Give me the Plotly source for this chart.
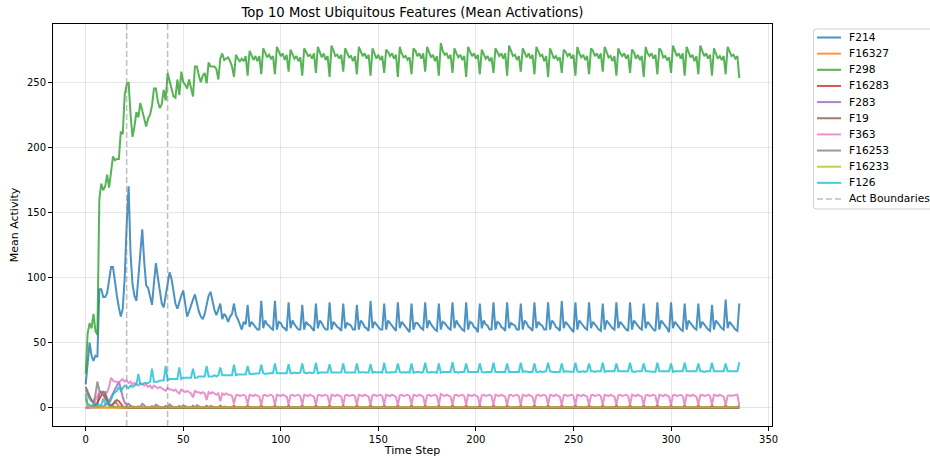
import plotly.graph_objects as go

# Mean activation per time step, one value per step (0..335), written 7 steps per line.
F214 = [
    18, 32, 50, 40, 36, 40, 39,
    91, 91, 85, 85, 88, 100, 108,
    108, 96, 86, 77, 70, 76, 100,
    140, 170, 118, 95, 86, 82, 100,
    122, 137, 112, 94, 92, 86, 79,
    96, 111, 100, 89, 80, 77, 86,
    96, 104, 99, 88, 80, 76, 82,
    86, 90, 80, 70, 74, 79, 83,
    87, 80, 74, 70, 68, 72, 80,
    86, 89, 82, 75, 71, 76, 80,
    68, 72, 70, 66, 70, 72, 80,
    71, 68, 64, 60, 66, 64, 79,
    62, 66, 64, 62, 60, 60, 82,
    61, 67, 64, 63, 61, 60, 82,
    60, 66, 65, 62, 61, 59, 81,
    61, 67, 64, 62, 60, 60, 79,
    60, 66, 64, 63, 61, 59, 80,
    61, 67, 65, 62, 60, 60, 81,
    60, 66, 64, 62, 61, 59, 80,
    61, 65, 64, 63, 60, 60, 79,
    60, 67, 65, 62, 61, 59, 82,
    61, 66, 64, 62, 60, 60, 80,
    60, 67, 65, 63, 61, 59, 81,
    61, 66, 64, 62, 60, 58, 80,
    60, 65, 65, 63, 61, 60, 81,
    61, 67, 64, 62, 60, 59, 80,
    60, 66, 65, 63, 61, 60, 81,
    61, 67, 64, 62, 60, 59, 81,
    60, 66, 65, 62, 61, 58, 80,
    61, 67, 64, 63, 60, 60, 81,
    60, 66, 65, 62, 61, 59, 81,
    61, 65, 64, 63, 60, 60, 80,
    60, 67, 65, 62, 61, 59, 81,
    61, 66, 64, 63, 60, 60, 81,
    60, 67, 65, 62, 61, 59, 82,
    61, 66, 64, 62, 60, 58, 81,
    60, 67, 65, 63, 61, 60, 81,
    61, 66, 64, 62, 60, 59, 80,
    60, 67, 65, 63, 61, 60, 81,
    61, 66, 64, 62, 60, 59, 81,
    60, 67, 65, 63, 61, 60, 80,
    61, 66, 64, 62, 60, 59, 81,
    60, 67, 65, 63, 61, 58, 81,
    61, 66, 64, 62, 60, 59, 80,
    60, 67, 65, 63, 61, 60, 80,
    61, 66, 64, 62, 60, 59, 79,
    60, 67, 65, 63, 61, 60, 83,
    61, 66, 64, 62, 60, 59, 80,
]

F16327 = [
    8, 1.5, 0.3, 0.1, 0.1, 0.1, 0.1,
    0.1, 0.1, 0.1, 0.1, 0.1, 0.1, 0.1,
    0.1, 0.1, 0.1, 0.1, 0.1, 0.1, 0.1,
    0.1, 0.1, 0.1, 0.1, 0.1, 0.1, 0.1,
    0.1, 0.1, 0.1, 0.1, 0.1, 0.1, 0.1,
    0.1, 0.1, 0.1, 0.1, 0.1, 0.1, 0.1,
    0.1, 0.1, 0.1, 0.1, 0.1, 0.1, 0.1,
    0.1, 0.1, 0.1, 0.1, 0.1, 0.1, 0.1,
    0.1, 0.1, 0.1, 0.1, 0.1, 0.1, 0.1,
    0.1, 0.1, 0.1, 0.1, 0.1, 0.1, 0.1,
    0.1, 0.1, 0.1, 0.1, 0.1, 0.1, 0.1,
    0.1, 0.1, 0.1, 0.1, 0.1, 0.1, 0.1,
    0.1, 0.1, 0.1, 0.1, 0.1, 0.1, 0.1,
    0.1, 0.1, 0.1, 0.1, 0.1, 0.1, 0.1,
    0.1, 0.1, 0.1, 0.1, 0.1, 0.1, 0.1,
    0.1, 0.1, 0.1, 0.1, 0.1, 0.1, 0.1,
    0.1, 0.1, 0.1, 0.1, 0.1, 0.1, 0.1,
    0.1, 0.1, 0.1, 0.1, 0.1, 0.1, 0.1,
    0.1, 0.1, 0.1, 0.1, 0.1, 0.1, 0.1,
    0.1, 0.1, 0.1, 0.1, 0.1, 0.1, 0.1,
    0.1, 0.1, 0.1, 0.1, 0.1, 0.1, 0.1,
    0.1, 0.1, 0.1, 0.1, 0.1, 0.1, 0.1,
    0.1, 0.1, 0.1, 0.1, 0.1, 0.1, 0.1,
    0.1, 0.1, 0.1, 0.1, 0.1, 0.1, 0.1,
    0.1, 0.1, 0.1, 0.1, 0.1, 0.1, 0.1,
    0.1, 0.1, 0.1, 0.1, 0.1, 0.1, 0.1,
    0.1, 0.1, 0.1, 0.1, 0.1, 0.1, 0.1,
    0.1, 0.1, 0.1, 0.1, 0.1, 0.1, 0.1,
    0.1, 0.1, 0.1, 0.1, 0.1, 0.1, 0.1,
    0.1, 0.1, 0.1, 0.1, 0.1, 0.1, 0.1,
    0.1, 0.1, 0.1, 0.1, 0.1, 0.1, 0.1,
    0.1, 0.1, 0.1, 0.1, 0.1, 0.1, 0.1,
    0.1, 0.1, 0.1, 0.1, 0.1, 0.1, 0.1,
    0.1, 0.1, 0.1, 0.1, 0.1, 0.1, 0.1,
    0.1, 0.1, 0.1, 0.1, 0.1, 0.1, 0.1,
    0.1, 0.1, 0.1, 0.1, 0.1, 0.1, 0.1,
    0.1, 0.1, 0.1, 0.1, 0.1, 0.1, 0.1,
    0.1, 0.1, 0.1, 0.1, 0.1, 0.1, 0.1,
    0.1, 0.1, 0.1, 0.1, 0.1, 0.1, 0.1,
    0.1, 0.1, 0.1, 0.1, 0.1, 0.1, 0.1,
    0.1, 0.1, 0.1, 0.1, 0.1, 0.1, 0.1,
    0.1, 0.1, 0.1, 0.1, 0.1, 0.1, 0.1,
    0.1, 0.1, 0.1, 0.1, 0.1, 0.1, 0.1,
    0.1, 0.1, 0.1, 0.1, 0.1, 0.1, 0.1,
    0.1, 0.1, 0.1, 0.1, 0.1, 0.1, 0.1,
    0.1, 0.1, 0.1, 0.1, 0.1, 0.1, 0.1,
    0.1, 0.1, 0.1, 0.1, 0.1, 0.1, 0.1,
    0.1, 0.1, 0.1, 0.1, 0.1, 0.1, 0.1,
]

F298 = [
    26, 57, 65, 61, 72, 59, 56,
    160, 172, 167, 170, 179, 169, 182,
    193, 190, 191, 191, 212, 210, 240,
    248, 250, 225, 208, 216, 227, 223,
    234, 228, 222, 216, 222, 225, 232,
    245, 245, 235, 230, 233, 244, 236,
    257, 250, 245, 239, 238, 252, 240,
    258, 250, 248, 245, 252, 246, 239,
    262, 262, 255, 250, 255, 257, 249,
    265, 262, 262, 262, 260, 252, 268,
    272, 267, 268, 269, 266, 262, 254,
    271, 268, 266, 268, 266, 270, 255,
    274, 270, 267, 270, 266, 270, 256,
    276, 272, 269, 271, 268, 270, 256,
    277, 273, 270, 272, 267, 271, 258,
    275, 272, 268, 270, 266, 269, 255,
    276, 273, 270, 271, 268, 272, 257,
    277, 272, 269, 272, 267, 270, 254,
    278, 274, 270, 271, 268, 271, 258,
    276, 272, 269, 270, 266, 270, 256,
    277, 273, 270, 272, 268, 271, 255,
    276, 272, 268, 271, 267, 270, 257,
    275, 273, 270, 272, 268, 271, 254,
    277, 272, 269, 270, 267, 269, 256,
    276, 274, 270, 272, 268, 272, 258,
    277, 273, 269, 271, 266, 270, 255,
    280, 274, 271, 272, 268, 271, 257,
    276, 272, 269, 271, 267, 270, 254,
    277, 273, 270, 272, 268, 271, 256,
    275, 272, 268, 270, 266, 269, 257,
    276, 273, 270, 272, 268, 272, 255,
    278, 274, 270, 271, 267, 270, 258,
    276, 272, 269, 272, 268, 271, 256,
    277, 273, 270, 271, 266, 270, 254,
    276, 272, 268, 270, 267, 269, 257,
    275, 273, 270, 272, 268, 271, 255,
    277, 272, 269, 271, 267, 270, 256,
    276, 274, 270, 272, 268, 272, 258,
    277, 273, 269, 270, 266, 270, 255,
    276, 272, 270, 272, 268, 271, 257,
    275, 273, 268, 271, 267, 270, 254,
    277, 272, 270, 272, 268, 271, 256,
    276, 274, 269, 270, 267, 269, 257,
    278, 273, 270, 272, 268, 272, 255,
    277, 272, 269, 271, 266, 270, 256,
    278, 274, 270, 272, 268, 271, 255,
    276, 272, 268, 270, 267, 270, 256,
    277, 273, 270, 271, 268, 270, 253,
]

F16283 = [
    0, 0, 0, 0.5, 1, 2, 4,
    7, 10, 12, 10, 7, 3, 1.5,
    3, 5, 6, 5, 3, 1, 0.3,
    0.1, 0.1, 0.1, 0.1, 0.1, 0.1, 0.1,
    0.1, 0.1, 0.1, 0.1, 0.1, 0.1, 0.1,
    0.1, 0.1, 0.1, 0.1, 0.1, 0.1, 0.1,
    0.1, 0.1, 0.1, 0.1, 0.1, 0.1, 0.1,
    0.1, 0.1, 0.1, 0.1, 0.1, 0.1, 0.1,
    0.1, 0.1, 0.1, 0.1, 0.1, 0.1, 0.1,
    0.1, 0.1, 0.1, 0.1, 0.1, 0.1, 0.1,
    0.1, 0.1, 0.1, 0.1, 0.1, 0.1, 0.1,
    0.1, 0.1, 0.1, 0.1, 0.1, 0.1, 0.1,
    0.1, 0.1, 0.1, 0.1, 0.1, 0.1, 0.1,
    0.1, 0.1, 0.1, 0.1, 0.1, 0.1, 0.1,
    0.1, 0.1, 0.1, 0.1, 0.1, 0.1, 0.1,
    0.1, 0.1, 0.1, 0.1, 0.1, 0.1, 0.1,
    0.1, 0.1, 0.1, 0.1, 0.1, 0.1, 0.1,
    0.1, 0.1, 0.1, 0.1, 0.1, 0.1, 0.1,
    0.1, 0.1, 0.1, 0.1, 0.1, 0.1, 0.1,
    0.1, 0.1, 0.1, 0.1, 0.1, 0.1, 0.1,
    0.1, 0.1, 0.1, 0.1, 0.1, 0.1, 0.1,
    0.1, 0.1, 0.1, 0.1, 0.1, 0.1, 0.1,
    0.1, 0.1, 0.1, 0.1, 0.1, 0.1, 0.1,
    0.1, 0.1, 0.1, 0.1, 0.1, 0.1, 0.1,
    0.1, 0.1, 0.1, 0.1, 0.1, 0.1, 0.1,
    0.1, 0.1, 0.1, 0.1, 0.1, 0.1, 0.1,
    0.1, 0.1, 0.1, 0.1, 0.1, 0.1, 0.1,
    0.1, 0.1, 0.1, 0.1, 0.1, 0.1, 0.1,
    0.1, 0.1, 0.1, 0.1, 0.1, 0.1, 0.1,
    0.1, 0.1, 0.1, 0.1, 0.1, 0.1, 0.1,
    0.1, 0.1, 0.1, 0.1, 0.1, 0.1, 0.1,
    0.1, 0.1, 0.1, 0.1, 0.1, 0.1, 0.1,
    0.1, 0.1, 0.1, 0.1, 0.1, 0.1, 0.1,
    0.1, 0.1, 0.1, 0.1, 0.1, 0.1, 0.1,
    0.1, 0.1, 0.1, 0.1, 0.1, 0.1, 0.1,
    0.1, 0.1, 0.1, 0.1, 0.1, 0.1, 0.1,
    0.1, 0.1, 0.1, 0.1, 0.1, 0.1, 0.1,
    0.1, 0.1, 0.1, 0.1, 0.1, 0.1, 0.1,
    0.1, 0.1, 0.1, 0.1, 0.1, 0.1, 0.1,
    0.1, 0.1, 0.1, 0.1, 0.1, 0.1, 0.1,
    0.1, 0.1, 0.1, 0.1, 0.1, 0.1, 0.1,
    0.1, 0.1, 0.1, 0.1, 0.1, 0.1, 0.1,
    0.1, 0.1, 0.1, 0.1, 0.1, 0.1, 0.1,
    0.1, 0.1, 0.1, 0.1, 0.1, 0.1, 0.1,
    0.1, 0.1, 0.1, 0.1, 0.1, 0.1, 0.1,
    0.1, 0.1, 0.1, 0.1, 0.1, 0.1, 0.1,
    0.1, 0.1, 0.1, 0.1, 0.1, 0.1, 0.1,
    0.1, 0.1, 0.1, 0.1, 0.1, 0.1, 0.1,
]

F283 = [
    0, 0, 0, 0, 0, 0, 0.5,
    0.5, 1, 1, 2, 3, 5, 8,
    11, 15, 18, 20, 15, 8, 4,
    2, 3, 1.5, 1, 0.5, 0.5, 0.5,
    0.5, 3, 1.5, 0.5, 0.5, 0.5, 0.5,
    0.5, 2.5, 1.5, 0.5, 0.4, 0.4, 0.4,
    0.4, 2.5, 1.2, 0.4, 0.4, 0.4, 0.4,
    0.4, 2, 1, 0.4, 0.3, 0.3, 0.3,
    0.3, 2, 1, 0.3, 0.3, 0.3, 0.3,
    0.3, 1.5, 0.8, 0.3, 0.3, 0.3, 0.3,
    0.3, 1, 0.5, 0.3, 0.3, 0.3, 0.3,
    0.3, 0.3, 0.3, 0.3, 0.3, 0.3, 0.3,
    0.3, 0.3, 0.3, 0.3, 0.3, 0.3, 0.3,
    0.3, 0.3, 0.3, 0.3, 0.3, 0.3, 0.3,
    0.3, 0.3, 0.3, 0.3, 0.3, 0.3, 0.3,
    0.3, 0.3, 0.3, 0.3, 0.3, 0.3, 0.3,
    0.3, 0.3, 0.3, 0.3, 0.3, 0.3, 0.3,
    0.3, 0.3, 0.3, 0.3, 0.3, 0.3, 0.3,
    0.3, 0.3, 0.3, 0.3, 0.3, 0.3, 0.3,
    0.3, 0.3, 0.3, 0.3, 0.3, 0.3, 0.3,
    0.3, 0.3, 0.3, 0.3, 0.3, 0.3, 0.3,
    0.3, 0.3, 0.3, 0.3, 0.3, 0.3, 0.3,
    0.3, 0.3, 0.3, 0.3, 0.3, 0.3, 0.3,
    0.3, 0.3, 0.3, 0.3, 0.3, 0.3, 0.3,
    0.3, 0.3, 0.3, 0.3, 0.3, 0.3, 0.3,
    0.3, 0.3, 0.3, 0.3, 0.3, 0.3, 0.3,
    0.3, 0.3, 0.3, 0.3, 0.3, 0.3, 0.3,
    0.3, 0.3, 0.3, 0.3, 0.3, 0.3, 0.3,
    0.3, 0.3, 0.3, 0.3, 0.3, 0.3, 0.3,
    0.3, 0.3, 0.3, 0.3, 0.3, 0.3, 0.3,
    0.3, 0.3, 0.3, 0.3, 0.3, 0.3, 0.3,
    0.3, 0.3, 0.3, 0.3, 0.3, 0.3, 0.3,
    0.3, 0.3, 0.3, 0.3, 0.3, 0.3, 0.3,
    0.3, 0.3, 0.3, 0.3, 0.3, 0.3, 0.3,
    0.3, 0.3, 0.3, 0.3, 0.3, 0.3, 0.3,
    0.3, 0.3, 0.3, 0.3, 0.3, 0.3, 0.3,
    0.3, 0.3, 0.3, 0.3, 0.3, 0.3, 0.3,
    0.3, 0.3, 0.3, 0.3, 0.3, 0.3, 0.3,
    0.3, 0.3, 0.3, 0.3, 0.3, 0.3, 0.3,
    0.3, 0.3, 0.3, 0.3, 0.3, 0.3, 0.3,
    0.3, 0.3, 0.3, 0.3, 0.3, 0.3, 0.3,
    0.3, 0.3, 0.3, 0.3, 0.3, 0.3, 0.3,
    0.3, 0.3, 0.3, 0.3, 0.3, 0.3, 0.3,
    0.3, 0.3, 0.3, 0.3, 0.3, 0.3, 0.3,
    0.3, 0.3, 0.3, 0.3, 0.3, 0.3, 0.3,
    0.3, 0.3, 0.3, 0.3, 0.3, 0.3, 0.3,
    0.3, 0.3, 0.3, 0.3, 0.3, 0.3, 0.3,
    0.3, 0.3, 0.3, 0.3, 0.3, 0.3, 0.3,
]

F19 = [
    16, 12, 9, 6, 4, 3, 2,
    11, 12, 10, 7, 4, 2, 1,
    1, 0.5, 0.3, 0.3, 0.3, 0.3, 0.5,
    0.2, 0.2, 0.2, 0.2, 0.2, 0.2, 1,
    0.2, 0.2, 0.2, 0.2, 0.2, 0.2, 1.2,
    0.2, 0.2, 0.2, 0.2, 0.2, 0.2, 1.3,
    0.2, 0.2, 0.2, 0.2, 0.2, 0.2, 1.4,
    0.2, 0.2, 0.2, 0.2, 0.2, 0.2, 1.5,
    0.2, 0.2, 0.2, 0.2, 0.2, 0.2, 1.5,
    0.2, 0.2, 0.2, 0.2, 0.2, 0.2, 1.6,
    0.2, 0.2, 0.2, 0.2, 0.2, 0.2, 1.6,
    0.2, 0.2, 0.2, 0.2, 0.2, 0.2, 1.7,
    0.2, 0.2, 0.2, 0.2, 0.2, 0.2, 1.7,
    0.2, 0.2, 0.2, 0.2, 0.2, 0.2, 1.6,
    0.2, 0.2, 0.2, 0.2, 0.2, 0.2, 1.8,
    0.2, 0.2, 0.2, 0.2, 0.2, 0.2, 1.7,
    0.2, 0.2, 0.2, 0.2, 0.2, 0.2, 1.6,
    0.2, 0.2, 0.2, 0.2, 0.2, 0.2, 1.8,
    0.2, 0.2, 0.2, 0.2, 0.2, 0.2, 1.7,
    0.2, 0.2, 0.2, 0.2, 0.2, 0.2, 1.7,
    0.2, 0.2, 0.2, 0.2, 0.2, 0.2, 1.8,
    0.2, 0.2, 0.2, 0.2, 0.2, 0.2, 1.6,
    0.2, 0.2, 0.2, 0.2, 0.2, 0.2, 1.7,
    0.2, 0.2, 0.2, 0.2, 0.2, 0.2, 1.8,
    0.2, 0.2, 0.2, 0.2, 0.2, 0.2, 1.7,
    0.2, 0.2, 0.2, 0.2, 0.2, 0.2, 1.6,
    0.2, 0.2, 0.2, 0.2, 0.2, 0.2, 1.8,
    0.2, 0.2, 0.2, 0.2, 0.2, 0.2, 1.7,
    0.2, 0.2, 0.2, 0.2, 0.2, 0.2, 1.7,
    0.2, 0.2, 0.2, 0.2, 0.2, 0.2, 1.8,
    0.2, 0.2, 0.2, 0.2, 0.2, 0.2, 1.6,
    0.2, 0.2, 0.2, 0.2, 0.2, 0.2, 1.7,
    0.2, 0.2, 0.2, 0.2, 0.2, 0.2, 1.8,
    0.2, 0.2, 0.2, 0.2, 0.2, 0.2, 1.7,
    0.2, 0.2, 0.2, 0.2, 0.2, 0.2, 1.6,
    0.2, 0.2, 0.2, 0.2, 0.2, 0.2, 1.8,
    0.2, 0.2, 0.2, 0.2, 0.2, 0.2, 1.7,
    0.2, 0.2, 0.2, 0.2, 0.2, 0.2, 1.7,
    0.2, 0.2, 0.2, 0.2, 0.2, 0.2, 1.8,
    0.2, 0.2, 0.2, 0.2, 0.2, 0.2, 1.6,
    0.2, 0.2, 0.2, 0.2, 0.2, 0.2, 1.7,
    0.2, 0.2, 0.2, 0.2, 0.2, 0.2, 1.8,
    0.2, 0.2, 0.2, 0.2, 0.2, 0.2, 1.7,
    0.2, 0.2, 0.2, 0.2, 0.2, 0.2, 1.6,
    0.2, 0.2, 0.2, 0.2, 0.2, 0.2, 1.8,
    0.2, 0.2, 0.2, 0.2, 0.2, 0.2, 1.7,
    0.2, 0.2, 0.2, 0.2, 0.2, 0.2, 1.7,
    0.2, 0.2, 0.2, 0.2, 0.2, 0.2, 1.8,
]

F363 = [
    0, 0, 0, 1, 3, 6, 9,
    12, 12, 11, 12, 12, 16, 23,
    21, 20, 20, 19, 21, 22, 20,
    21, 19, 20, 18, 19, 18, 17,
    19, 18, 17, 18, 16, 17, 15,
    17, 16, 15, 16, 15, 14, 13,
    15, 14, 14, 13, 14, 12, 11,
    14, 13, 12, 13, 12, 11, 8,
    13, 12, 12, 11, 12, 11, 6,
    12, 11, 12, 11, 10, 11, 5,
    11, 10, 11, 10, 10, 9, 3,
    9.5, 10, 9, 9.5, 10, 9, 2.5,
    10, 9.5, 9, 10, 9.5, 8.5, 2,
    9.5, 10, 9, 9.5, 10, 9, 2,
    10, 9.5, 9, 10, 9.5, 8.5, 2.5,
    9.5, 10, 9, 9.5, 10, 9, 2,
    10, 9.5, 9, 10, 9.5, 8.5, 2,
    9.5, 10, 9, 9.5, 10, 9, 2.5,
    10, 9.5, 9, 10, 9.5, 8.5, 2,
    9.5, 10, 9, 9.5, 10, 9, 2,
    10, 9.5, 9, 10, 9.5, 8.5, 2.5,
    9.5, 10, 9, 9.5, 10, 9, 2,
    10, 9.5, 9, 10, 9.5, 8.5, 2,
    9.5, 10, 9, 9.5, 10, 9, 2.5,
    10, 9.5, 9, 10, 9.5, 8.5, 2,
    9.5, 10, 9, 9.5, 10, 9, 2,
    10.5, 9.5, 9, 10, 9.5, 8.5, 2.5,
    9.5, 10, 9, 9.5, 10, 9, 2,
    10, 9.5, 9, 10, 9.5, 8.5, 2,
    9.5, 10, 9, 9.5, 10, 9, 2.5,
    10, 9.5, 9, 10, 9.5, 8.5, 2,
    9.5, 10, 9, 9.5, 10, 9, 2,
    10, 9.5, 9, 10, 9.5, 8.5, 2.5,
    9.5, 10, 9, 9.5, 10, 9, 2,
    10, 9.5, 9, 10, 9.5, 8.5, 2,
    9.5, 10, 9, 9.5, 10, 9, 2.5,
    10, 9.5, 9, 10, 9.5, 8.5, 2,
    9.5, 10, 9, 9.5, 10, 9, 2,
    10, 9.5, 9, 10, 9.5, 8.5, 2.5,
    9.5, 10, 9, 9.5, 10, 9, 2,
    10, 9.5, 9, 10, 9.5, 8.5, 2,
    9.5, 10, 9, 9.5, 10, 9, 2.5,
    10, 9.5, 9, 10, 9.5, 8.5, 2,
    9.5, 10, 9, 9.5, 10, 9, 2,
    10, 9.5, 9, 10, 9.5, 8.5, 2.5,
    9.5, 10, 9, 9.5, 10, 9, 2,
    10, 9.5, 9, 10, 9.5, 8.5, 2,
    9, 9.5, 9, 9.5, 10, 10, 2,
]

F16253 = [
    14, 10, 7, 5, 4, 10, 20,
    13, 12, 12, 12, 7, 2, 0.5,
    2, 5, 3, 1, 0.3, 0.2, 0.2,
    0.1, 0.1, 0.1, 0.1, 0.1, 0.1, 0.1,
    0.1, 0.1, 0.1, 0.1, 0.1, 0.1, 0.1,
    0.1, 0.1, 0.1, 0.1, 0.1, 0.1, 0.1,
    0.1, 0.1, 0.1, 0.1, 0.1, 0.1, 0.1,
    0.1, 0.1, 0.1, 0.1, 0.1, 0.1, 0.1,
    0.1, 0.1, 0.1, 0.1, 0.1, 0.1, 0.1,
    0.1, 0.1, 0.1, 0.1, 0.1, 0.1, 0.1,
    0.1, 0.1, 0.1, 0.1, 0.1, 0.1, 0.1,
    0.1, 0.1, 0.1, 0.1, 0.1, 0.1, 0.1,
    0.1, 0.1, 0.1, 0.1, 0.1, 0.1, 0.1,
    0.1, 0.1, 0.1, 0.1, 0.1, 0.1, 0.1,
    0.1, 0.1, 0.1, 0.1, 0.1, 0.1, 0.1,
    0.1, 0.1, 0.1, 0.1, 0.1, 0.1, 0.1,
    0.1, 0.1, 0.1, 0.1, 0.1, 0.1, 0.1,
    0.1, 0.1, 0.1, 0.1, 0.1, 0.1, 0.1,
    0.1, 0.1, 0.1, 0.1, 0.1, 0.1, 0.1,
    0.1, 0.1, 0.1, 0.1, 0.1, 0.1, 0.1,
    0.1, 0.1, 0.1, 0.1, 0.1, 0.1, 0.1,
    0.1, 0.1, 0.1, 0.1, 0.1, 0.1, 0.1,
    0.1, 0.1, 0.1, 0.1, 0.1, 0.1, 0.1,
    0.1, 0.1, 0.1, 0.1, 0.1, 0.1, 0.1,
    0.1, 0.1, 0.1, 0.1, 0.1, 0.1, 0.1,
    0.1, 0.1, 0.1, 0.1, 0.1, 0.1, 0.1,
    0.1, 0.1, 0.1, 0.1, 0.1, 0.1, 0.1,
    0.1, 0.1, 0.1, 0.1, 0.1, 0.1, 0.1,
    0.1, 0.1, 0.1, 0.1, 0.1, 0.1, 0.1,
    0.1, 0.1, 0.1, 0.1, 0.1, 0.1, 0.1,
    0.1, 0.1, 0.1, 0.1, 0.1, 0.1, 0.1,
    0.1, 0.1, 0.1, 0.1, 0.1, 0.1, 0.1,
    0.1, 0.1, 0.1, 0.1, 0.1, 0.1, 0.1,
    0.1, 0.1, 0.1, 0.1, 0.1, 0.1, 0.1,
    0.1, 0.1, 0.1, 0.1, 0.1, 0.1, 0.1,
    0.1, 0.1, 0.1, 0.1, 0.1, 0.1, 0.1,
    0.1, 0.1, 0.1, 0.1, 0.1, 0.1, 0.1,
    0.1, 0.1, 0.1, 0.1, 0.1, 0.1, 0.1,
    0.1, 0.1, 0.1, 0.1, 0.1, 0.1, 0.1,
    0.1, 0.1, 0.1, 0.1, 0.1, 0.1, 0.1,
    0.1, 0.1, 0.1, 0.1, 0.1, 0.1, 0.1,
    0.1, 0.1, 0.1, 0.1, 0.1, 0.1, 0.1,
    0.1, 0.1, 0.1, 0.1, 0.1, 0.1, 0.1,
    0.1, 0.1, 0.1, 0.1, 0.1, 0.1, 0.1,
    0.1, 0.1, 0.1, 0.1, 0.1, 0.1, 0.1,
    0.1, 0.1, 0.1, 0.1, 0.1, 0.1, 0.1,
    0.1, 0.1, 0.1, 0.1, 0.1, 0.1, 0.1,
    0.1, 0.1, 0.1, 0.1, 0.1, 0.1, 0.1,
]

F16233 = [
    7, 2, 0.5, 0.4, 0.4, 0.4, 0.4,
    0.4, 0.4, 0.4, 0.4, 0.4, 0.4, 0.4,
    0.4, 0.4, 0.4, 0.4, 0.4, 0.4, 0.4,
    0.4, 0.4, 0.4, 0.4, 0.4, 0.4, 0.4,
    0.4, 0.4, 0.4, 0.4, 0.4, 0.4, 0.4,
    0.4, 0.4, 0.4, 0.4, 0.4, 0.4, 0.4,
    0.4, 0.4, 0.4, 0.4, 0.4, 0.4, 0.4,
    0.4, 0.4, 0.4, 0.4, 0.4, 0.4, 0.4,
    0.4, 0.4, 0.4, 0.4, 0.4, 0.4, 0.4,
    0.4, 0.4, 0.4, 0.4, 0.4, 0.4, 0.4,
    0.4, 0.4, 0.4, 0.4, 0.4, 0.4, 0.4,
    0.4, 0.4, 0.4, 0.4, 0.4, 0.4, 0.4,
    0.4, 0.4, 0.4, 0.4, 0.4, 0.4, 0.4,
    0.4, 0.4, 0.4, 0.4, 0.4, 0.4, 0.4,
    0.4, 0.4, 0.4, 0.4, 0.4, 0.4, 0.4,
    0.4, 0.4, 0.4, 0.4, 0.4, 0.4, 0.4,
    0.4, 0.4, 0.4, 0.4, 0.4, 0.4, 0.4,
    0.4, 0.4, 0.4, 0.4, 0.4, 0.4, 0.4,
    0.4, 0.4, 0.4, 0.4, 0.4, 0.4, 0.4,
    0.4, 0.4, 0.4, 0.4, 0.4, 0.4, 0.4,
    0.4, 0.4, 0.4, 0.4, 0.4, 0.4, 0.4,
    0.4, 0.4, 0.4, 0.4, 0.4, 0.4, 0.4,
    0.4, 0.4, 0.4, 0.4, 0.4, 0.4, 0.4,
    0.4, 0.4, 0.4, 0.4, 0.4, 0.4, 0.4,
    0.4, 0.4, 0.4, 0.4, 0.4, 0.4, 0.4,
    0.4, 0.4, 0.4, 0.4, 0.4, 0.4, 0.4,
    0.4, 0.4, 0.4, 0.4, 0.4, 0.4, 0.4,
    0.4, 0.4, 0.4, 0.4, 0.4, 0.4, 0.4,
    0.4, 0.4, 0.4, 0.4, 0.4, 0.4, 0.4,
    0.4, 0.4, 0.4, 0.4, 0.4, 0.4, 0.4,
    0.4, 0.4, 0.4, 0.4, 0.4, 0.4, 0.4,
    0.4, 0.4, 0.4, 0.4, 0.4, 0.4, 0.4,
    0.4, 0.4, 0.4, 0.4, 0.4, 0.4, 0.4,
    0.4, 0.4, 0.4, 0.4, 0.4, 0.4, 0.4,
    0.4, 0.4, 0.4, 0.4, 0.4, 0.4, 0.4,
    0.4, 0.4, 0.4, 0.4, 0.4, 0.4, 0.4,
    0.4, 0.4, 0.4, 0.4, 0.4, 0.4, 0.4,
    0.4, 0.4, 0.4, 0.4, 0.4, 0.4, 0.4,
    0.4, 0.4, 0.4, 0.4, 0.4, 0.4, 0.4,
    0.4, 0.4, 0.4, 0.4, 0.4, 0.4, 0.4,
    0.4, 0.4, 0.4, 0.4, 0.4, 0.4, 0.4,
    0.4, 0.4, 0.4, 0.4, 0.4, 0.4, 0.4,
    0.4, 0.4, 0.4, 0.4, 0.4, 0.4, 0.4,
    0.4, 0.4, 0.4, 0.4, 0.4, 0.4, 0.4,
    0.4, 0.4, 0.4, 0.4, 0.4, 0.4, 0.4,
    0.4, 0.4, 0.4, 0.4, 0.4, 0.4, 0.4,
    0.4, 0.4, 0.4, 0.4, 0.4, 0.4, 0.4,
    0.4, 0.4, 0.4, 0.4, 0.4, 0.4, 0.4,
]

F126 = [
    11, 3, 2, 1.5, 2, 3, 2.5,
    2, 2, 7, 3, 3, 3, 6,
    10, 12, 13, 16, 13, 15, 17,
    16, 15, 17, 16, 17, 18, 26,
    18, 18, 19, 19, 19, 20, 30,
    20, 20, 20, 21, 21, 21, 32,
    21, 22, 22, 22, 22, 22, 31,
    22, 23, 23, 23, 23, 23, 30,
    23, 23, 24, 24, 24, 24, 32,
    24, 24, 24, 25, 24, 25, 31,
    25, 25, 25, 25, 25, 25, 33,
    25, 25.5, 25.5, 25.5, 25.5, 25.5, 32,
    26, 26, 26, 26, 26, 26.5, 33,
    26.5, 26, 26.5, 26.5, 26.5, 26.5, 34,
    26.5, 26.5, 26.5, 26.5, 26.5, 26.5, 33.5,
    26.5, 26.5, 27, 26.5, 26.5, 27, 34,
    27, 26.5, 27, 27, 26.5, 27, 34.5,
    26.5, 27, 27, 27, 27, 27, 33.5,
    27, 27, 27, 26.5, 27, 27, 34,
    27, 27, 27, 27, 27, 27, 34,
    27, 27, 27.5, 27, 27, 27, 33.5,
    27, 27.5, 27, 27, 27.5, 27, 34.5,
    27, 27, 27, 27.5, 27, 27.5, 34,
    27.5, 27, 27.5, 27, 27.5, 27, 34,
    27, 27.5, 27.5, 27.5, 27, 27.5, 34.5,
    27.5, 27, 27.5, 27.5, 27.5, 27, 34,
    27, 27.5, 27.5, 27, 27.5, 27.5, 35,
    27.5, 27.5, 27, 27.5, 27.5, 27.5, 34,
    27.5, 27.5, 27.5, 27.5, 27, 27.5, 34,
    27.5, 27, 27.5, 27.5, 27.5, 27.5, 34.5,
    27.5, 27.5, 27.5, 27, 27.5, 27.5, 34,
    27.5, 27.5, 27.5, 27.5, 27.5, 27.5, 34.5,
    27.5, 28, 27.5, 27.5, 27.5, 27.5, 34,
    27.5, 27.5, 28, 27.5, 27.5, 28, 34.5,
    28, 27.5, 27.5, 28, 27.5, 27.5, 34,
    27.5, 28, 28, 27.5, 28, 27.5, 34.5,
    28, 27.5, 28, 28, 27.5, 28, 34,
    28, 28, 27.5, 28, 28, 28, 34.5,
    27.5, 28, 28, 28, 27.5, 28, 34,
    28, 28, 28, 27.5, 28, 28, 34.5,
    28, 27.5, 28, 28, 28, 28, 34,
    28, 28, 28, 28, 28, 27.5, 34.5,
    28, 28, 28, 28, 27.5, 28, 34,
    27.5, 28, 28, 28, 28, 28, 34.5,
    28, 28, 28, 27.5, 28, 28, 34,
    28, 28, 27.5, 28, 28, 28, 34.5,
    28, 28, 28, 28, 28, 28, 34,
    28, 28, 28, 28, 28, 28, 35,
]

FEATURES = ["F214", "F16327", "F298", "F16283", "F283",
            "F19", "F363", "F16253", "F16233", "F126"]
SERIES = [F214, F16327, F298, F16283, F283, F19, F363, F16253, F16233, F126]
COLORS = ["#1f77b4", "#ff7f0e", "#2ca02c", "#d62728", "#9467bd",
          "#8c564b", "#e377c2", "#7f7f7f", "#bcbd22", "#17becf"]
ACT_BOUNDARIES = [21, 42]
BOUNDARY_LABEL = "Act Boundaries"
X_TICKS = [0, 50, 100, 150, 200, 250, 300, 350]
Y_TICKS = [0, 50, 100, 150, 200, 250]

X_RANGE = [-16.75, 351.75]
Y_RANGE = [-14.0, 294.6]

# plot-area geometry in pixels
W, H = 930, 457
ML, MR, MT, MB = 53, 158, 24, 31
PW, PH = W - ML - MR, H - MT - MB


def px_x(p):
    return (p - ML) / PW


def px_y(p):
    return (H - MB - p) / PH


def rgba(hex_color, a):
    h = hex_color.lstrip("#")
    return "rgba(%d,%d,%d,%s)" % (int(h[0:2], 16), int(h[2:4], 16), int(h[4:6], 16), a)


steps = list(range(len(F214)))

fig = go.Figure()
for name, vals, col in zip(FEATURES, SERIES, COLORS):
    fig.add_trace(go.Scatter(
        x=steps, y=vals, mode="lines", name=name, showlegend=False,
        line=dict(color=rgba(col, 0.8), width=2),
    ))

BOUNDARY_COLOR = "rgba(128,128,128,0.5)"
BOUNDARY_DASH = "6px,3px"

# vertical act markers spanning the full y extent
bx, by = [], []
for b in ACT_BOUNDARIES:
    bx += [b, b, None]
    by += [Y_RANGE[0], Y_RANGE[1], None]
fig.add_trace(go.Scatter(
    x=bx, y=by, mode="lines", name=BOUNDARY_LABEL, showlegend=False,
    line=dict(color=BOUNDARY_COLOR, width=1.5, dash=BOUNDARY_DASH),
))

# legend box drawn by hand so the row pitch stays compact
shapes = []
annotations = []
bx0, bx1, by0, by1, r = 813.5, 945.0, 29.0, 209.0, 3.0
path = (
    f"M {px_x(bx0 + r)} {px_y(by0)} L {px_x(bx1 - r)} {px_y(by0)} "
    f"Q {px_x(bx1)} {px_y(by0)} {px_x(bx1)} {px_y(by0 + r)} "
    f"L {px_x(bx1)} {px_y(by1 - r)} Q {px_x(bx1)} {px_y(by1)} {px_x(bx1 - r)} {px_y(by1)} "
    f"L {px_x(bx0 + r)} {px_y(by1)} Q {px_x(bx0)} {px_y(by1)} {px_x(bx0)} {px_y(by1 - r)} "
    f"L {px_x(bx0)} {px_y(by0 + r)} Q {px_x(bx0)} {px_y(by0)} {px_x(bx0 + r)} {px_y(by0)} Z"
)
shapes.append(dict(type="path", xref="paper", yref="paper", path=path,
                   line=dict(color="#d0d0d0", width=1), fillcolor="rgba(255,255,255,0.8)"))

labels = FEATURES + [BOUNDARY_LABEL]
for i, lab in enumerate(labels):
    yc = 37.5 + 16.15 * i
    if lab == BOUNDARY_LABEL:
        ln = dict(color=BOUNDARY_COLOR, width=1.5, dash=BOUNDARY_DASH)
    else:
        ln = dict(color=rgba(COLORS[i], 0.8), width=2)
    shapes.append(dict(type="line", xref="paper", yref="paper",
                       x0=px_x(817), x1=px_x(841), y0=px_y(yc), y1=px_y(yc), line=ln))
    annotations.append(dict(text=lab, xref="paper", yref="paper",
                            x=px_x(847), y=px_y(yc), xanchor="left", yanchor="middle",
                            showarrow=False, font=dict(size=10.7, color="black")))

axis_common = dict(
    showline=True, linecolor="black", linewidth=1, mirror=True,
    ticks="outside", ticklen=4, tickcolor="black", tickwidth=1,
    showgrid=True, gridcolor="rgba(176,176,176,0.3)", gridwidth=1,
    zeroline=False, tickfont=dict(size=10, color="black"),
)

fig.update_layout(
    width=W, height=H,
    margin=dict(l=ML, r=MR, t=MT, b=MB, autoexpand=False),
    paper_bgcolor="white", plot_bgcolor="white",
    font=dict(family="DejaVu Sans", color="black"),
    title=dict(text="Top 10 Most Ubiquitous Features (Mean Activations)",
               x=0.5, xref="paper", xanchor="center",
               y=1 - 12 / H, yref="container", yanchor="middle",
               font=dict(size=13.2)),
    xaxis=dict(range=X_RANGE, tickvals=X_TICKS,
               title=dict(text="Time Step", font=dict(size=11), standoff=3),
               **axis_common),
    yaxis=dict(range=Y_RANGE, tickvals=Y_TICKS,
               title=dict(text="Mean Activity", font=dict(size=11), standoff=6),
               **axis_common),
    shapes=shapes,
    annotations=annotations,
    showlegend=False,
)

fig.write_html("out.html")
